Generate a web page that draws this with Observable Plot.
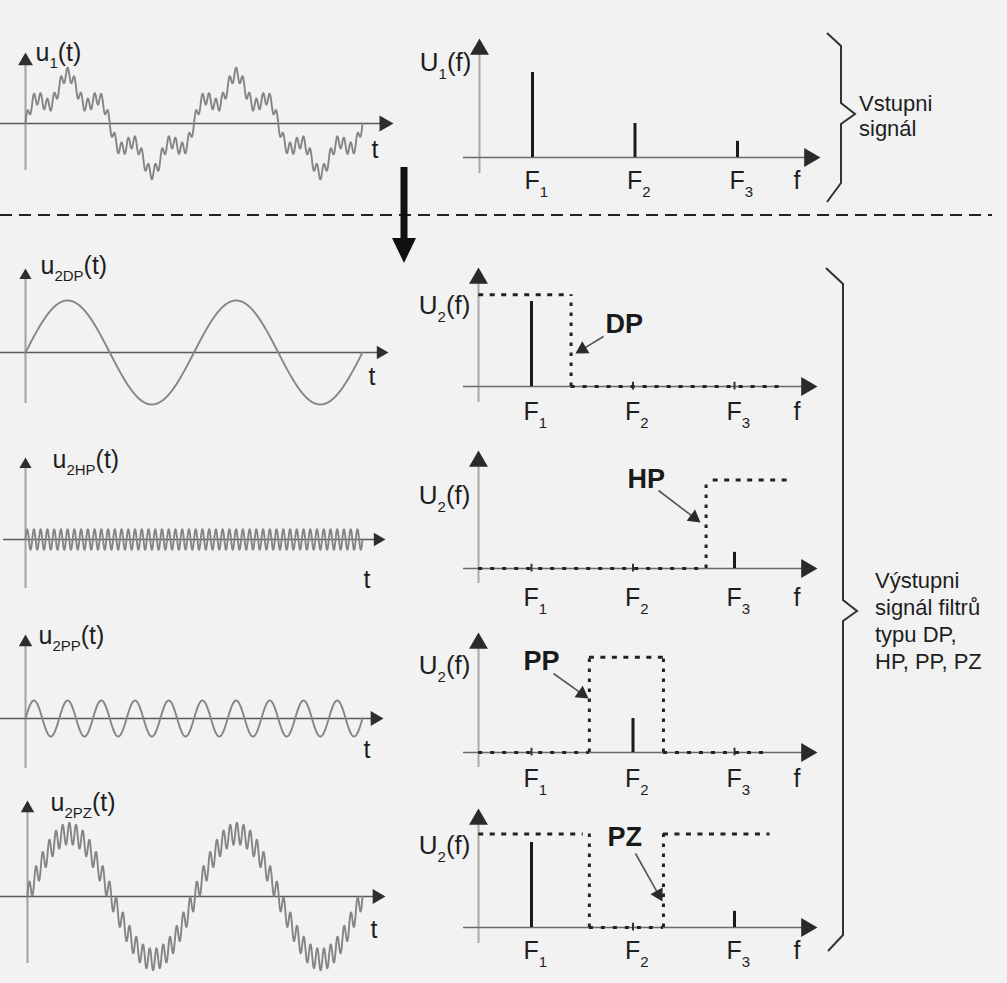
<!DOCTYPE html>
<html><head><meta charset="utf-8">
<script src="https://cdn.jsdelivr.net/npm/d3@7"></script>
<script src="https://cdn.jsdelivr.net/npm/@observablehq/plot@0.6"></script>
<style>
html,body{margin:0;padding:0;background:#f2f2f2;}
#page{position:relative;width:1007px;height:983px;overflow:hidden;background:#f2f2f2;font-family:"Liberation Sans",Arial,sans-serif;color:#1e1e1e;}
#page svg{position:absolute;left:0;top:0;overflow:visible;}
.note{position:absolute;font-size:22px;line-height:27px;white-space:nowrap;}
</style></head><body><div id="page"></div>
<script>
// ---------------- data ----------------
const components = ["F1", "F2", "F3"];
const componentFreq = [1, 2, 3];            // schematic position on the f axis
const componentAmp = [1, 0.4, 0.19];        // spectral line heights
const timeHarmonic = [1, 5, 25];            // cycles per fundamental period
const timeAmp = [1, 0.3, 0.17];             // relative amplitudes in the time plots
const filterNames = ["DP", "HP", "PP", "PZ"];
const filterPassed = [["F1"], ["F3"], ["F2"], ["F1", "F3"]];
const filterGain = [1.08, 1.04, 1.12, 1.1];
const filterEdges = [[1.39], [2.72], [1.57, 2.30], [1.57, 2.30]];
const filterTop = [[[0.48, 1.36]], [[2.79, 3.52]], [[1.57, 2.30]], [[0.48, 1.51], [2.30, 3.35]]];
const filterStop = [[[1.39, 3.45]], [[0.48, 2.72]], [[0.48, 1.57], [2.30, 3.36]], [[1.57, 2.30]]];
const timeLabels = ["u_{1}(t)", "u_{2DP}(t)", "u_{2HP}(t)", "u_{2PP}(t)", "u_{2PZ}(t)"];
const specLabels = ["U_{1}(f)", "U_{2}(f)", "U_{2}(f)", "U_{2}(f)", "U_{2}(f)"];
const freqLabels = ["F_{1}", "F_{2}", "F_{3}"];
const noteTexts = [["Vstupni", "signál"], ["Výstupni", "signál filtrů", "typu DP,", "HP, PP, PZ"]];

// ---------------- layout (pixels) ----------------
const W = 1007, H = 983;
const FONT = "Liberation Sans, Arial, sans-serif";
const LT = [
  {base:123, k:38, x0:25, x1:362, yAx:25, yTop:52, yBot:170, xLeft:0, xTip:393, head:5.5, label:[35,60], tl:[371,157]},
  {base:352, k:52, x0:25, x1:362, yAx:25, yTop:268, yBot:403, xLeft:0, xTip:388, head:4.5, label:[40,273], tl:[368,384]},
  {base:539, k:60, x0:25, x1:362, yAx:25, yTop:457, yBot:588, xLeft:3, xTip:385, head:4.5, label:[52,467], tl:[363,587]},
  {base:718, k:60, x0:25, x1:362, yAx:25, yTop:634, yBot:768, xLeft:0, xTip:383, head:5, label:[38,643], tl:[363,757]},
  {base:896, k:63, x0:27, x1:362, yAx:27, yTop:800, yBot:963, xLeft:0, xTip:385, head:5, label:[50,810], tl:[370,937]}
];
const LS = [
  {base:157, k:85, f1:532, f3:737, yAx:479, yTop:38, yBot:173, xLeft:463, xTip:820, label:70, fl:188},
  {base:386, k:85, f1:531, f3:734, yAx:478, yTop:267, yBot:402, xLeft:463, xTip:817, label:313, fl:419, name:[605,332], ptr:[[603,336],[575,353]]},
  {base:568, k:85, f1:531, f3:734, yAx:478, yTop:450, yBot:583, xLeft:463, xTip:817, label:503, fl:605, name:[627,487], ptr:[[658,490],[700,522]]},
  {base:752, k:85, f1:531, f3:734, yAx:478, yTop:632, yBot:767, xLeft:463, xTip:817, label:673, fl:786, name:[523,669], ptr:[[553,673],[588,698]]},
  {base:927, k:85, f1:531, f3:734, yAx:478, yTop:808, yBot:943, xLeft:463, xTip:817, label:853, fl:958, name:[607,845], ptr:[[635,853],[662,901]]}
];

const page = document.getElementById("page");

function subscripts(svg, subSize, subDy) {
  svg.querySelectorAll("text").forEach(t => {
    const s = t.textContent;
    const m = s.match(/^(.*?)_\{(.*?)\}(.*)$/);
    if (!m) return;
    t.textContent = "";
    const ns = "http://www.w3.org/2000/svg";
    const a = document.createElementNS(ns, "tspan"); a.textContent = m[1]; t.appendChild(a);
    const b = document.createElementNS(ns, "tspan"); b.textContent = m[2];
    b.setAttribute("font-size", subSize); b.setAttribute("dy", subDy); t.appendChild(b);
    if (m[3]) { const c = document.createElementNS(ns, "tspan"); c.textContent = m[3]; c.setAttribute("dy", -subDy); t.appendChild(c); }
  });
}

// triangle head: tip at pixel (px,py) pointing along (vx,vy)
function head(xs, ys, px, py, vx, vy, r, fill) {
  const len = Math.hypot(vx, vy); const ux = vx / len, uy = vy / len;
  const off = 1.555 * r;
  const rot = Math.atan2(ux, -uy) * 180 / Math.PI;
  return Plot.dot([[xs.invert(px - ux * off), ys.invert(py - uy * off)]],
    {x: d => d[0], y: d => d[1], symbol: "triangle", r, fill, stroke: "none", rotate: rot});
}

function mount(svg) { page.appendChild(svg); }

// ---------------- time-domain panels ----------------
LT.forEach((P, i) => {
  const comps = i === 0 ? [0, 1, 2] : filterPassed[i - 1].map(c => components.indexOf(c));
  const N = 2400;
  const signal = d3.range(N + 1).map(j => {
    const t = 2 * j / N;
    return {t, u: d3.sum(comps, c => timeAmp[c] * Math.sin(2 * Math.PI * timeHarmonic[c] * t))};
  });
  const xs = d3.scaleLinear([0, 2], [P.x0, P.x1]);
  const ys = d3.scaleLinear([0, 1], [P.base, P.base - P.k]);
  const svg = Plot.plot({
    width: W, height: H, margin: 0, axis: null,
    style: {background: "transparent", overflow: "visible", fontFamily: FONT},
    x: {domain: [0, 2], range: [P.x0, P.x1]},
    y: {domain: [0, 1], range: [P.base, P.base - P.k]},
    marks: [
      Plot.ruleX([xs.invert(P.yAx)], {y1: ys.invert(P.yBot), y2: ys.invert(P.yTop + 4), stroke: "#a2a2a2", strokeWidth: 2}),
      Plot.ruleY([0], {x1: xs.invert(P.xLeft), x2: xs.invert(P.xTip - 4), stroke: "#5a5a5a", strokeWidth: 1.6}),
      Plot.line(signal, {x: "t", y: "u", stroke: "#858585", strokeWidth: 1.9}),
      head(xs, ys, P.yAx, P.yTop, 0, -1, P.head, "#2e2e2e"),
      head(xs, ys, P.xTip, P.base, 1, 0, P.head + 0.5, "#2e2e2e"),
      Plot.text([timeLabels[i]], {x: xs.invert(P.label[0]), y: ys.invert(P.label[1]), text: d => d,
        textAnchor: "start", lineAnchor: "bottom", fontSize: 25, fill: "#1e1e1e"}),
      Plot.text(["t"], {x: xs.invert(P.tl[0]), y: ys.invert(P.tl[1]), text: d => d,
        textAnchor: "start", lineAnchor: "bottom", fontSize: 25, fill: "#1e1e1e"})
    ]
  });
  subscripts(svg, 15, 7);
  mount(svg);
});

// ---------------- spectrum panels ----------------
LS.forEach((P, i) => {
  const xs = d3.scaleLinear([1, 3], [P.f1, P.f3]);
  const ys = d3.scaleLinear([0, 1], [P.base, P.base - P.k]);
  const fi = i - 1;
  const passedSet = i === 0 ? components : filterPassed[fi];
  const lines = components.map((c, j) => ({c, f: componentFreq[j], a: componentAmp[j], label: freqLabels[j], pass: passedSet.includes(c)}));
  const marks = [
    Plot.ruleX([xs.invert(P.yAx)], {y1: ys.invert(P.yBot), y2: ys.invert(P.yTop + 6), stroke: "#a8a8a8", strokeWidth: 2}),
    Plot.ruleY([0], {x1: xs.invert(P.xLeft), x2: xs.invert(P.xTip - 6), stroke: "#6a6a6a", strokeWidth: 1.6}),
    head(xs, ys, P.yAx, P.yTop, 0, -1, 7, "#2a2a2a"),
    head(xs, ys, P.xTip, P.base, 1, 0, 7, "#2a2a2a"),
    Plot.ruleX(lines.filter(d => d.pass), {x: "f", y1: 0, y2: "a", stroke: "#1a1a1a", strokeWidth: 3}),
    Plot.ruleX(lines.filter(d => !d.pass), {x: "f", y1: -0.04, y2: 0.05, stroke: "#333", strokeWidth: 2}),
    Plot.text(lines, {x: "f", y: ys.invert(P.fl), text: "label", dx: -8, textAnchor: "start", lineAnchor: "bottom", fontSize: 25, fill: "#1e1e1e"}),
    Plot.text(["f"], {x: xs.invert(793), y: ys.invert(P.fl), text: d => d, textAnchor: "start", lineAnchor: "bottom", fontSize: 25, fill: "#1e1e1e"}),
    Plot.text([specLabels[i]], {x: xs.invert(P.yAx - 8), y: ys.invert(P.label), text: d => d, textAnchor: "end", lineAnchor: "bottom", fontSize: 26, fill: "#1e1e1e"})
  ];
  if (fi >= 0) {
    const g = filterGain[fi];
    marks.push(
      Plot.ruleY(filterTop[fi], {y: g, x1: d => d[0], x2: d => d[1], stroke: "#222", strokeWidth: 3, strokeDasharray: "5,6.5"}),
      Plot.ruleX(filterEdges[fi], {x: d => d, y1: 0, y2: g, stroke: "#222", strokeWidth: 3, strokeDasharray: "3.5,6.5"}),
      Plot.ruleY(filterStop[fi], {y: 0, x1: d => d[0], x2: d => d[1], stroke: "#222", strokeWidth: 3, strokeDasharray: "4,8"}),
      Plot.text([filterNames[fi]], {x: xs.invert(P.name[0]), y: ys.invert(P.name[1]), text: d => d, textAnchor: "start", lineAnchor: "bottom", fontSize: 27, fontWeight: "bold", fill: "#1a1a1a"})
    );
    const [[ax, ay], [bx, by]] = P.ptr;
    const vx = bx - ax, vy = by - ay, len = Math.hypot(vx, vy);
    const ex = bx - vx / len * 8, ey = by - vy / len * 8;
    marks.push(
      Plot.link([[ax, ay, ex, ey]], {x1: d => xs.invert(d[0]), y1: d => ys.invert(d[1]), x2: d => xs.invert(d[2]), y2: d => ys.invert(d[3]), stroke: "#555", strokeWidth: 1.6}),
      head(xs, ys, bx, by, vx, vy, 5.2, "#2a2a2a")
    );
  }
  const svg = Plot.plot({
    width: W, height: H, margin: 0, axis: null,
    style: {background: "transparent", overflow: "visible", fontFamily: FONT},
    x: {domain: [1, 3], range: [P.f1, P.f3]},
    y: {domain: [0, 1], range: [P.base, P.base - P.k]},
    marks
  });
  subscripts(svg, 15, 8);
  mount(svg);
});

// ---------------- decorations (separator, flow arrow, braces) ----------------
const deco = document.createElementNS("http://www.w3.org/2000/svg", "svg");
deco.setAttribute("width", W); deco.setAttribute("height", H);
deco.innerHTML = `
  <line x1="0" y1="215" x2="992" y2="215" stroke="#222" stroke-width="2" stroke-dasharray="12,7"/>
  <line x1="404" y1="167" x2="404" y2="242" stroke="#111" stroke-width="7"/>
  <path d="M392,238 L416,238 L404,263 Z" fill="#111"/>
  <path d="M827,33 L841,46 L841,103 L855,114 L841,124 L841,183 L827,202" fill="none" stroke="#333" stroke-width="2"/>
  <path d="M826,268 L843,284 L843,600 L857,611 L843,621 L843,935 L828,951" fill="none" stroke="#333" stroke-width="2"/>`;
page.appendChild(deco);

const n1 = document.createElement("div"); n1.className = "note";
n1.style.left = "859px"; n1.style.top = "91px"; n1.style.lineHeight = "25px";
n1.innerHTML = noteTexts[0].join("<br>"); page.appendChild(n1);
const n2 = document.createElement("div"); n2.className = "note";
n2.style.left = "875px"; n2.style.top = "567px";
n2.innerHTML = noteTexts[1].join("<br>"); page.appendChild(n2);
</script></body></html>
